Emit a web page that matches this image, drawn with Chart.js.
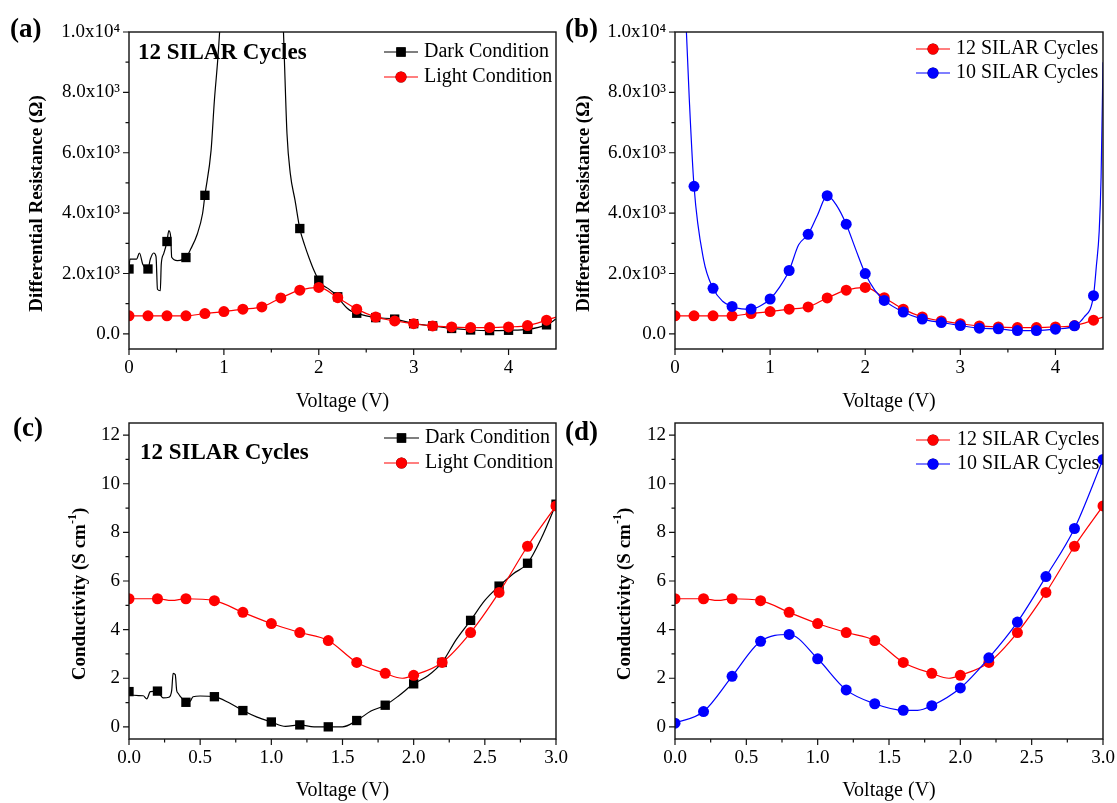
<!DOCTYPE html>
<html>
<head>
<meta charset="utf-8">
<script src="https://cdn.jsdelivr.net/npm/chart.js@4.4.1/dist/chart.umd.min.js"></script>
<style>
  html, body { margin: 0; padding: 0; background: #fff; }
  body { width: 1117px; height: 803px; position: relative; overflow: hidden; }
  canvas { position: absolute; }
</style>
</head>
<body>
<canvas id="chartA" width="580" height="414" style="left:0;top:0"></canvas>
<canvas id="chartB" width="580" height="414" style="left:558px;top:0"></canvas>
<canvas id="chartC" width="580" height="403" style="left:0;top:400px"></canvas>
<canvas id="chartD" width="580" height="403" style="left:558px;top:400px"></canvas>
<script>
// ---- data ----
// marker grid (V)
const voltRes = [0, 0.2, 0.4, 0.6, 0.8, 1.0, 1.2, 1.4, 1.6, 1.8, 2.0, 2.2, 2.4, 2.6, 2.8, 3.0, 3.2, 3.4, 3.6, 3.8, 4.0, 4.2, 4.4];
const voltCond = [0, 0.2, 0.4, 0.6, 0.8, 1.0, 1.2, 1.4, 1.6, 1.8, 2.0, 2.2, 2.4, 2.6, 2.8, 3.0];

// differential resistance (ohm), 12 SILAR / light condition
const lightRes = [600, 600, 600, 600, 675, 740, 820, 895, 1190, 1450, 1540, 1200, 820, 560, 430, 340, 265, 230, 210, 210, 230, 275, 455];
const lightResLineV = [0, 0.2, 0.4, 0.6, 0.8, 1.0, 1.2, 1.4, 1.6, 1.8, 2.0, 2.2, 2.4, 2.6, 2.8, 3.0, 3.2, 3.4, 3.6, 3.8, 4.0, 4.2, 4.4, 4.5];
const lightResLine = [600, 600, 600, 600, 675, 740, 820, 895, 1190, 1450, 1540, 1200, 820, 560, 430, 340, 265, 230, 210, 210, 230, 275, 455, 560];

// dark condition: markers + the denser traced curve (peak runs off the top)
const darkResMarkV = [0, 0.2, 0.4, 0.6, 0.8, 1.8, 2.0, 2.2, 2.4, 2.6, 2.8, 3.0, 3.2, 3.4, 3.6, 3.8, 4.0, 4.2, 4.4];
const darkResMark = [2150, 2150, 3060, 2530, 4590, 3490, 1780, 1230, 685, 540, 490, 340, 265, 180, 130, 110, 120, 150, 300];
const darkResLineV = [0, 0.01, 0.08, 0.11, 0.145, 0.2, 0.225, 0.26, 0.285, 0.3, 0.33, 0.34, 0.365, 0.4, 0.42,
  0.44, 0.45, 0.51, 0.6, 0.65, 0.72, 0.775, 0.8, 0.865, 0.9, 0.935, 0.955, 1.05, 1.3, 1.55,
  1.628, 1.64, 1.665, 1.7, 1.75, 1.8, 1.85, 1.9, 1.95, 2.0, 2.05, 2.1, 2.15, 2.2, 2.25,
  2.3, 2.35, 2.4, 2.5, 2.6, 2.8, 3.0, 3.2, 3.4, 3.6, 3.8, 4.0, 4.2, 4.4, 4.5];
const darkResLine = [2150, 2480, 2480, 2680, 2310, 2160, 2480, 2680, 2560, 1480, 1430, 2310, 2650, 3060, 3420,
  3200, 2540, 2430, 2530, 2810, 3310, 3980, 4590, 6080, 7740, 9070, 10010, 16000, 30000, 16000,
  10000, 8850, 6630, 5310, 4420, 3490, 2950, 2500, 2100, 1780, 1600, 1500, 1380, 1230, 1020,
  850, 740, 685, 600, 540, 490, 340, 265, 180, 130, 110, 120, 150, 300, 490];

// 10 SILAR cycles
const blueResMarkV = [0.2, 0.4, 0.6, 0.8, 1.0, 1.2, 1.4, 1.6, 1.8, 2.0, 2.2, 2.4, 2.6, 2.8, 3.0, 3.2, 3.4, 3.6, 3.8, 4.0, 4.2, 4.4];
const blueResMark = [4890, 1510, 910, 823, 1156, 2100, 3300, 4577, 3633, 2000, 1110, 723, 490, 377, 277, 190, 167, 110, 110, 157, 267, 1267];
const blueResLineV = [0, 0.12, 0.15, 0.2, 0.3, 0.4, 0.5, 0.6, 0.7, 0.8, 0.9, 1.0, 1.1, 1.2, 1.3, 1.4, 1.5, 1.6, 1.7, 1.8,
  1.9, 2.0, 2.1, 2.2, 2.4, 2.6, 2.8, 3.0, 3.2, 3.4, 3.6, 3.8, 4.0, 4.2, 4.3, 4.4, 4.43, 4.46, 4.48, 4.5];
const blueResLine = [22000, 10000, 7800, 4890, 2470, 1510, 1080, 910, 830, 823, 930, 1156, 1550, 2100, 2950, 3300, 3950, 4577, 4250, 3633,
  2800, 2000, 1450, 1110, 723, 490, 377, 277, 190, 167, 110, 110, 157, 267, 550, 1267, 2240, 3400, 5200, 9000];

// conductivity (S/cm)
const lightCond = [5.27, 5.27, 5.27, 5.19, 4.71, 4.25, 3.88, 3.55, 2.65, 2.20, 2.12, 2.65, 3.88, 5.53, 7.43, 9.09];
const lightCondLineV = [0, 0.2, 0.3, 0.4, 0.6, 0.8, 1.0, 1.2, 1.4, 1.6, 1.8, 1.92, 2.0, 2.2, 2.4, 2.6, 2.8, 3.0];
const lightCondLine = [5.27, 5.27, 5.2, 5.27, 5.19, 4.71, 4.25, 3.88, 3.55, 2.65, 2.20, 2.0, 2.12, 2.65, 3.88, 5.53, 7.43, 9.09];

const darkCond = [1.45, 1.47, 1.01, 1.24, 0.67, 0.20, 0.08, 0.0, 0.26, 0.89, 1.77, 2.65, 4.38, 5.79, 6.73, 9.16];
const darkCondLineV = [0, 0.01, 0.1, 0.125, 0.15, 0.2, 0.215, 0.24, 0.28, 0.3, 0.31, 0.325, 0.335, 0.345, 0.36,
  0.375, 0.4, 0.43, 0.45, 0.5, 0.6, 0.7, 0.8, 0.9, 1.0, 1.1, 1.2, 1.3, 1.4, 1.5,
  1.6, 1.7, 1.8, 1.9, 2.0, 2.1, 2.2, 2.3, 2.4, 2.5, 2.6, 2.7, 2.8, 2.9, 3.0];
const darkCondLine = [1.45, 1.31, 1.28, 1.15, 1.45, 1.47, 1.35, 1.19, 1.22, 1.5, 2.2, 2.15, 1.5, 1.38, 1.25,
  1.15, 1.01, 1.05, 1.24, 1.27, 1.24, 1.0, 0.67, 0.4, 0.2, 0.02, 0.08, 0.0, 0.0, 0.0,
  0.26, 0.65, 0.89, 1.3, 1.77, 2.1, 2.65, 3.6, 4.38, 5.2, 5.79, 6.3, 6.73, 7.8, 9.16];

const blueCond = [0.15, 0.63, 2.08, 3.52, 3.80, 2.80, 1.52, 0.95, 0.68, 0.87, 1.60, 2.84, 4.31, 6.18, 8.16, 11.0];
const blueCondLineV = [0, 0.2, 0.4, 0.6, 0.8, 1.0, 1.2, 1.4, 1.6, 1.7, 1.8, 2.0, 2.2, 2.4, 2.6, 2.8, 3.0];
const blueCondLine = [0.15, 0.63, 2.08, 3.52, 3.80, 2.80, 1.52, 0.95, 0.68, 0.68, 0.87, 1.60, 2.84, 4.31, 6.18, 8.16, 11.0];

// tick values and labels
const voltTicksWide = [0, 1, 2, 3, 4];
const voltLabelsWide = ['0', '1', '2', '3', '4'];
const voltTicksNarrow = [0, 0.5, 1, 1.5, 2, 2.5, 3];
const voltLabelsNarrow = ['0.0', '0.5', '1.0', '1.5', '2.0', '2.5', '3.0'];
const resTicks = [0, 2000, 4000, 6000, 8000, 10000];
const resLabels = ['0.0', '2.0x10\u00B3', '4.0x10\u00B3', '6.0x10\u00B3', '8.0x10\u00B3', '1.0x10\u2074'];
const condTicks = [0, 2, 4, 6, 8, 10, 12];
const condLabels = ['0', '2', '4', '6', '8', '10', '12'];

// ---- drawing ----
const serif = '"Liberation Serif", "Times New Roman", "DejaVu Serif", serif';
Chart.defaults.font.family = serif;
Chart.defaults.color = '#000';

const RED = '#ff0000', BLUE = '#0000ff', BLACK = '#000000';
const SQUARE_R = 6.6, CIRCLE_R = 5.5;

function pts(xs, ys) {
  return xs.map((x, i) => ({ x: x, y: ys[i] }));
}

function lineSet(xs, ys, color, order) {
  return {
    data: pts(xs, ys), borderColor: color, borderWidth: 1.2, pointRadius: 0,
    fill: false, cubicInterpolationMode: 'monotone', order: order,
  };
}

function markSet(xs, ys, color, style, order) {
  return {
    data: pts(xs, ys), showLine: false, borderColor: color, backgroundColor: color,
    pointStyle: style, pointRadius: style === 'rect' ? SQUARE_R : CIRCLE_R, pointBorderWidth: 0, order: order,
  };
}

function xAxis(min, max, ticks, labels, height) {
  return {
    type: 'linear', min: min, max: max,
    afterBuildTicks: (s) => { s.ticks = ticks.map((v) => ({ value: v })); },
    afterFit: (s) => { s.height = height; },
    grid: { display: false, drawTicks: false },
    border: { display: false },
    ticks: { font: { size: 19 }, padding: 8, maxRotation: 0, autoSkip: false, callback: (v, i) => labels[i] },
    title: { display: true, text: 'Voltage (V)', font: { size: 20 }, padding: { top: 0, bottom: 0 } },
  };
}

function yAxis(min, max, ticks, labels, width) {
  return {
    type: 'linear', min: min, max: max,
    afterBuildTicks: (s) => { s.ticks = ticks.map((v) => ({ value: v })); },
    afterFit: (s) => { s.width = width; },
    grid: { display: false, drawTicks: false },
    border: { display: false },
    ticks: { font: { size: 19 }, padding: 9, autoSkip: false, callback: (v, i) => labels[i] },
  };
}

// Origin-style frame, outward ticks, rotated y title, panel letter, note and legend
const originFrame = {
  id: 'originFrame',
  afterDraw(chart, args, o) {
    const { ctx, chartArea: a } = chart;
    const xs = chart.scales.x, ys = chart.scales.y;
    ctx.save();

    ctx.strokeStyle = '#111';
    ctx.lineWidth = 1.4;
    ctx.strokeRect(a.left, a.top, a.right - a.left, a.bottom - a.top);

    const minors = (vals, max) => vals.map((v) => v + (vals[1] - vals[0]) / 2).filter((v) => v < max);
    ctx.lineWidth = 1.2;
    ctx.beginPath();
    xs.ticks.forEach((t) => {
      const p = xs.getPixelForValue(t.value);
      ctx.moveTo(p, a.bottom); ctx.lineTo(p, a.bottom + 6);
    });
    minors(xs.ticks.map((t) => t.value), xs.max).forEach((v) => {
      const p = xs.getPixelForValue(v);
      ctx.moveTo(p, a.bottom); ctx.lineTo(p, a.bottom + 3.5);
    });
    ys.ticks.forEach((t) => {
      const p = ys.getPixelForValue(t.value);
      ctx.moveTo(a.left, p); ctx.lineTo(a.left - 6, p);
    });
    minors(ys.ticks.map((t) => t.value), ys.max).forEach((v) => {
      const p = ys.getPixelForValue(v);
      ctx.moveTo(a.left, p); ctx.lineTo(a.left - 3.5, p);
    });
    ctx.stroke();

    ctx.fillStyle = '#000';
    ctx.textAlign = 'left';
    ctx.textBaseline = 'middle';

    // y title, with optional superscript pieces
    ctx.save();
    ctx.translate(o.yTitleX, (a.top + a.bottom) / 2 + 13);
    ctx.rotate(-Math.PI / 2);
    const big = 'bold 19px ' + serif, small = 'bold 12px ' + serif;
    let total = 0;
    o.yTitle.forEach((p) => { ctx.font = p.sup ? small : big; total += ctx.measureText(p.t).width; });
    let cx = -total / 2;
    o.yTitle.forEach((p) => {
      ctx.font = p.sup ? small : big;
      ctx.fillText(p.t, cx, p.sup ? -7 : 0);
      cx += ctx.measureText(p.t).width;
    });
    ctx.restore();

    ctx.font = 'bold 27px ' + serif;
    ctx.fillText(o.panel, o.panelX, o.panelY);

    if (o.note) {
      ctx.font = 'bold 23px ' + serif;
      ctx.fillText(o.note, o.noteX, o.noteY);
    }

    o.legend.forEach((e, i) => {
      const ly = o.legY[i];
      const mx = (o.legX[0] + o.legX[1]) / 2;
      ctx.strokeStyle = e.color;
      ctx.lineWidth = 1.2;
      ctx.beginPath(); ctx.moveTo(o.legX[0], ly); ctx.lineTo(o.legX[1], ly); ctx.stroke();
      Chart.helpers.drawPoint(ctx, {
        pointStyle: e.style, radius: e.style === 'rect' ? SQUARE_R : CIRCLE_R, borderWidth: 0,
      }, mx, ly);
      ctx.fillStyle = e.color;
      ctx.fill();
      ctx.fillStyle = '#000';
      ctx.font = '20px ' + serif;
      ctx.fillText(e.label, o.legX[2], ly);
    });

    ctx.restore();
  },
};

const resTitle = [{ t: 'Differential Resistance (\u03A9)' }];
const condTitle = [{ t: 'Conductivity (S cm' }, { t: '-1', sup: true }, { t: ')' }];

function makePanel(id, datasets, scales, padding, frame) {
  try {
    new Chart(document.getElementById(id).getContext('2d'), {
      type: 'line',
      data: { datasets: datasets },
      options: {
        responsive: false, animation: false, events: [],
        layout: { padding: padding },
        plugins: { legend: { display: false }, tooltip: { enabled: false }, originFrame: frame },
        scales: scales,
      },
      plugins: [originFrame],
    });
  } catch (e) {
    console.error('chart ' + id + ' failed:', e);
  }
}

// (a) dark vs light, resistance
makePanel('chartA', [
  markSet(voltRes, lightRes, RED, 'circle', 0),
  lineSet(lightResLineV, lightResLine, RED, 1),
  markSet(darkResMarkV, darkResMark, BLACK, 'rect', 2),
  lineSet(darkResLineV, darkResLine, BLACK, 3),
], {
  x: xAxis(0, 4.5, voltTicksWide, voltLabelsWide, 65),
  y: yAxis(-500, 10000, resTicks, resLabels, 129),
}, { left: 0, top: 32, right: 24, bottom: 0 }, {
  panel: '(a)', panelX: 10, panelY: 30,
  note: '12 SILAR Cycles', noteX: 138, noteY: 53,
  yTitle: resTitle, yTitleX: 37,
  legX: [384, 418, 424], legY: [52, 77],
  legend: [
    { label: 'Dark Condition', color: BLACK, style: 'rect' },
    { label: 'Light Condition', color: RED, style: 'circle' },
  ],
});

// (b) 12 vs 10 SILAR cycles, resistance
makePanel('chartB', [
  markSet(blueResMarkV, blueResMark, BLUE, 'circle', 0),
  lineSet(blueResLineV, blueResLine, BLUE, 1),
  markSet(voltRes, lightRes, RED, 'circle', 2),
  lineSet(lightResLineV, lightResLine, RED, 3),
], {
  x: xAxis(0, 4.5, voltTicksWide, voltLabelsWide, 65),
  y: yAxis(-500, 10000, resTicks, resLabels, 117),
}, { left: 0, top: 32, right: 35, bottom: 0 }, {
  panel: '(b)', panelX: 7, panelY: 30,
  yTitle: resTitle, yTitleX: 26,
  legX: [358, 392, 398], legY: [49, 73],
  legend: [
    { label: '12 SILAR Cycles', color: RED, style: 'circle' },
    { label: '10 SILAR Cycles', color: BLUE, style: 'circle' },
  ],
});

// (c) dark vs light, conductivity
makePanel('chartC', [
  markSet(voltCond, lightCond, RED, 'circle', 0),
  lineSet(lightCondLineV, lightCondLine, RED, 1),
  markSet(voltCond, darkCond, BLACK, 'rect', 2),
  lineSet(darkCondLineV, darkCondLine, BLACK, 3),
], {
  x: xAxis(0, 3, voltTicksNarrow, voltLabelsNarrow, 64),
  y: yAxis(-0.5, 12.5, condTicks, condLabels, 129),
}, { left: 0, top: 23, right: 24, bottom: 0 }, {
  panel: '(c)', panelX: 13, panelY: 29,
  note: '12 SILAR Cycles', noteX: 140, noteY: 53,
  yTitle: condTitle, yTitleX: 80,
  legX: [384, 419, 425], legY: [38, 63],
  legend: [
    { label: 'Dark Condition', color: BLACK, style: 'rect' },
    { label: 'Light Condition', color: RED, style: 'circle' },
  ],
});

// (d) 12 vs 10 SILAR cycles, conductivity
makePanel('chartD', [
  markSet(voltCond, blueCond, BLUE, 'circle', 0),
  lineSet(blueCondLineV, blueCondLine, BLUE, 1),
  markSet(voltCond, lightCond, RED, 'circle', 2),
  lineSet(lightCondLineV, lightCondLine, RED, 3),
], {
  x: xAxis(0, 3, voltTicksNarrow, voltLabelsNarrow, 64),
  y: yAxis(-0.5, 12.5, condTicks, condLabels, 117),
}, { left: 0, top: 23, right: 35, bottom: 0 }, {
  panel: '(d)', panelX: 7, panelY: 33,
  yTitle: condTitle, yTitleX: 67,
  legX: [358, 392, 399], legY: [40, 64],
  legend: [
    { label: '12 SILAR Cycles', color: RED, style: 'circle' },
    { label: '10 SILAR Cycles', color: BLUE, style: 'circle' },
  ],
});
</script>
</body>
</html>
